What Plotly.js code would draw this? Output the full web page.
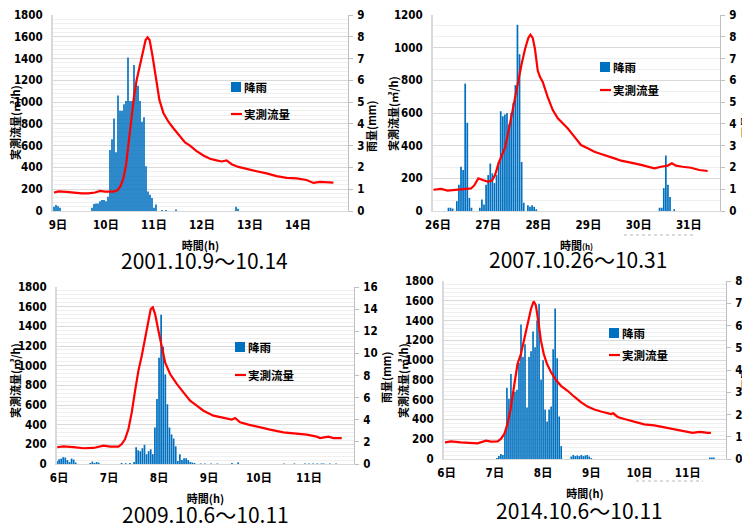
<!DOCTYPE html>
<html><head><meta charset="utf-8">
<script src="https://cdn.plot.ly/plotly-3.0.1.min.js"></script>
<style>html,body{margin:0;padding:0;background:#fff}#chart{width:742px;height:528px}</style>
</head><body><div id="chart"></div>
<script>
// ---------- data ----------
const days1 = ['9日','10日','11日','12日','13日','14日'];
const days2 = ['26日','27日','28日','29日','30日','31日'];
const days3 = ['6日','7日','8日','9日','10日','11日'];
const days4 = ['6日','7日','8日','9日','10日','11日'];

const titles = ['2001.10.9〜10.14','2007.10.26〜10.31','2009.10.6〜10.11','2014.10.6〜10.11'];

// hours from 0:00 of the first labelled day; rain in mm, flow in m3/h
const rain1H = [-2,-1,0,1,17,18,19,20,21,22,23,24,25,26,27,28,29,30,31,32,33,34,35,36,37,38,39,40,41,42,43,44,45,46,47,48,49,52,54,59,89,90];
const rain1V = [0.2,0.27,0.22,0.15,0.15,0.32,0.35,0.35,0.45,0.5,0.5,0.45,0.65,2.8,3.3,4.25,2.7,5.3,4.6,4.6,4.9,5.05,7.05,5.05,5.05,6.7,5.8,5.75,5.05,4.1,4.3,2.05,0.9,0.75,0.6,0.15,0.3,0.05,0.05,0.07,0.2,0.1];
const flow1H = [-2,0.3,4.3,7.7,11.8,15.2,18.5,21,23.5,27.7,29.7,31.3,32.7,34,35.3,36.7,38,39.3,41,42.7,43.8,44.8,45.8,47.2,48.8,50.7,52.7,55.2,57.7,61,63.5,66,69.3,72.7,76,79.3,81.8,84.3,86.8,90.2,94.3,99.3,104.3,109.3,114.3,119.3,124.3,127.7,131,134.3,137.7];
const flow1Q = [170,180,175,168,162,162,170,185,178,178,190,230,300,420,620,860,1050,1200,1330,1480,1570,1595,1570,1430,1220,1020,900,820,760,680,630,600,550,510,480,465,455,465,430,405,385,365,345,320,305,300,285,258,268,262,260];

const rain2H = [5,6,7,9,10,11,12,13,14,15,16,20,21,22,23,24,25,26,27,28,29,30,31,32,33,34,35,36,37,38,39,40,41,43,44,45,46,47,106,107,108,109,110,111,113];
const rain2V = [0.15,0.15,0.11,0.45,1.2,2.03,1.88,5.85,4.05,0.6,0.15,0.15,0.53,0.3,1.2,1.65,2.18,1.73,1.28,1.65,2.25,4.58,4.35,4.43,4.5,3.98,4.5,4.95,5.78,8.55,7.2,2.25,0.38,0.26,0.19,0.26,0.19,0.08,0.15,0.15,1.05,2.55,1.2,0.64,0.08];
const flow2H = [-2.2,1.5,4.6,7.8,11,14.2,15.8,17.4,19.3,21.4,23.8,25.7,27.3,28.9,30.5,32.1,33.6,35.2,36.8,38.4,40,41.6,43.2,44.2,45.3,46.4,47.7,48.8,50.1,52.4,54.9,57.3,59.7,62,65.2,68.4,71.6,74.8,78,81.2,84.4,87.6,90.7,93.9,97.1,100.3,103.5,106.7,109.9,111.9,113.8,117,121,125,129];
const flow2Q = [130,135,125,128,132,132,138,158,200,190,180,185,220,290,340,390,480,590,700,800,900,990,1060,1080,1060,990,860,820,790,700,618,567,537,506,455,404,384,363,349,337,322,308,298,292,282,271,261,271,278,292,278,271,265,251,245];

const rain3H = [-1,0,1,2,3,4,5,6,7,8,15,16,17,18,19,30,32,34,36,37,38,39,40,41,42,43,44,45,46,47,48,49,50,51,52,53,54,55,56,57,58,59,60,61,62,63,64,65,68,70,73,76,83,86,108,113,118,120,122,124,126,127,130,133];
const rain3V = [0.27,0.44,0.49,0.62,0.58,0.36,0.18,0.49,0.4,0.13,0.09,0.22,0.09,0.18,0.13,0.09,0.07,0.09,0.18,1.51,1.24,1.16,1.42,1.73,0.89,1.16,1.33,0.89,3.29,5.87,9.6,13.5,10.6,8.1,5.4,3.3,2.67,2.3,1.6,0.27,0.89,0.36,0.53,0.53,0.36,0.18,0.13,0.09,0.05,0.05,0.05,0.05,0.09,0.15,0.05,0.05,0.05,0.05,0.05,0.05,0.05,0.05,0.05,0.05];
const flow3H = [-0.9,2.1,6.9,11.7,16.5,21.3,24.5,28.5,30.1,31.7,33.3,34.9,36.5,38.1,39.7,41.3,42.9,44,45,46.1,47.7,49.3,50.9,53.3,56.5,59.7,62.9,66.1,69.3,74.1,78.9,82.9,84.5,86.9,90.9,95.7,101.3,107.7,112.5,118.9,123.7,125.3,129.3,131.7,135.7];
const flow3Q = [170,180,172,160,163,186,176,176,203,254,356,525,746,949,1100,1271,1458,1576,1593,1525,1356,1186,1034,915,814,729,644,593,542,492,468,451,468,424,400,373,349,322,312,298,278,264,278,264,264];

const rain4H = [25,26,27,28,29,30,31,32,33,34,35,36,37,38,39,40,41,42,43,44,45,46,47,48,49,50,51,52,53,54,55,56,57,62,63,64,65,66,67,68,69,70,71,72,131,132,133];
const rain4V = [0.04,0.13,0.22,0.18,1.24,3.2,2.71,3.82,2.98,3.02,3.11,4.31,6.04,4.58,5.16,2.31,4.58,4.84,5.73,5.02,6.22,6.98,3.56,4.44,2.22,1.69,2.22,2.36,4.93,6.76,4.53,1.91,0.58,0.11,0.18,0.13,0.16,0.13,0.18,0.13,0.16,0.18,0.11,0.04,0.07,0.07,0.07];
const flow4H = [-0.8,2.2,7.1,12.1,15.4,19.6,22.1,25.4,27,28.7,30.3,31.7,32.8,34,35.3,37,38.3,39.5,40.6,42,43.3,44.4,45.8,46.9,48.3,49.9,51.9,54.4,56.9,60.2,63.5,66.8,70.1,73.5,76.8,80.1,81.8,82.9,85.1,88.4,93.4,98.3,103.3,108.3,113.3,118.2,122.4,124.9,126.5,129.8,131.5];
const flow4Q = [169,179,169,162,159,186,176,179,203,253,355,490,659,794,963,1064,1182,1301,1419,1520,1595,1554,1368,1199,1064,963,880,800,740,690,630,575,530,500,480,462,455,462,425,405,375,350,340,320,304,287,264,272,274,264,264];

const rainName = '降雨', flowName = '実測流量';
const flowTitle = '実測流量(㎥/h)', rainTitle = '雨量(mm)';

// ---------- layout helpers ----------
const W = 742, H = 528;
const px = x => x / W, py = y => 1 - y / H;
const BLUE = '#0070c0', RED = '#ff0000';
const numFont = {family: '"Liberation Sans Narrow","DejaVu Sans Condensed","Noto Sans CJK JP",sans-serif', size: 11.5, color: '#000', weight: 'bold'};
const cjkBold = {family: '"Noto Sans CJK JP",sans-serif', size: 11, color: '#000', weight: 'bold'};
const legFont = {family: '"Noto Sans CJK JP",sans-serif', size: 11.5, color: '#000', weight: 'bold'};

const panels = [
  {days: days1, rH: rain1H, rV: rain1V, fH: flow1H, fQ: flow1Q, title: titles[0], xd: [53,348], yd: [15,211], xr: [-2.5,145], qmax: 1800, qminor: 40, rmax: 9, rdt: 1,
   tpos: [204,260], leg: [231,87,114], xt: '時間(h)', ftp: [15,123], rtp: [371,126]},
  {days: days2, rH: rain2H, rV: rain2V, fH: flow2H, fQ: flow2Q, title: titles[1], xd: [433,720], yd: [15,211], xr: [-2.4,134.9], qmax: 1200, qminor: 200/3, rmax: 9, rdt: 1,
   tpos: [578,259], leg: [600,67,90], xt: '時間<span style="font-size:8px">(h)</span>', ftp: [393,114], rtp: [746,112]},
  {days: days3, rH: rain3H, rV: rain3V, fH: flow3H, fQ: flow3Q, title: titles[2], xd: [57,354], yd: [287,464], xr: [-1,141.6], qmax: 1800, qminor: 40, rmax: 16, rdt: 2,
   tpos: [205,514], leg: [235,347,375], xt: '時間(h)', ftp: [15,381], rtp: [386,377]},
  {days: days4, rH: rain4H, rV: rain4V, fH: flow4H, fQ: flow4Q, title: titles[3], xd: [444,726], yd: [281,459], xr: [-1.3,139], qmax: 1800, qminor: 40, rmax: 8, rdt: 1,
   tpos: [579,510], leg: [609,333,355], xt: '時間(h)', ftp: [403,381], rtp: [746,365]}
];

const traces = [];
const layout = {
  width: W, height: H, margin: {l:0, r:0, t:0, b:0},
  paper_bgcolor: '#fff', plot_bgcolor: '#fff', showlegend: false,
  annotations: [], shapes: []
};

panels.forEach((p, i) => {
  const n = i + 1;
  const xId = n === 1 ? 'x' : 'x' + n;
  const rA = 2*n - 1, fA = 2*n;
  const rId = rA === 1 ? 'y' : 'y' + rA;
  const fId = 'y' + fA;
  const xdom = [px(p.xd[0]), px(p.xd[1])];
  const ydom = [py(p.yd[1]), py(p.yd[0])];

  traces.push({type: 'bar', name: rainName, x: p.rH, y: p.rV, xaxis: xId, yaxis: rId,
    width: 0.82, marker: {color: BLUE, line: {width: 0}}});
  traces.push({type: 'scatter', mode: 'lines', name: flowName, x: p.fH, y: p.fQ, xaxis: xId, yaxis: fId,
    line: {color: RED, width: 2.2}});

  layout['xaxis' + (n === 1 ? '' : n)] = {
    domain: xdom, anchor: rId, range: p.xr,
    tickvals: p.days.map((d, k) => k * 24), ticktext: p.days,
    showgrid: false, zeroline: false, showline: true, linecolor: '#d9d9d9', linewidth: 1,
    ticks: '', ticklabelstandoff: 3, tickfont: numFont,
    title: {text: p.xt, font: cjkBold, standoff: 11}
  };
  layout['yaxis' + (rA === 1 ? '' : rA)] = {
    domain: ydom, anchor: xId, side: 'right', range: [0, p.rmax], dtick: p.rdt,
    showgrid: false, zeroline: false, showline: true, linecolor: '#bfbfbf', linewidth: 1,
    ticks: 'outside', ticklen: 4, tickcolor: '#bfbfbf', tickfont: numFont, ticklabelstandoff: 2
  };
  layout['yaxis' + fA] = {
    overlaying: rId, anchor: xId, side: 'left', range: [0, p.qmax], dtick: 200,
    showgrid: true, gridcolor: '#d9d9d9', gridwidth: 1,
    minor: {dtick: p.qminor, showgrid: true, gridcolor: '#efefef', gridwidth: 1},
    zeroline: false, showline: true, linecolor: '#d9d9d9', linewidth: 2,
    ticks: '', ticklabelstandoff: 6, tickfont: numFont
  };

  // axis titles placed as in the pasted Excel charts
  layout.annotations.push({xref: 'paper', yref: 'paper', x: px(p.ftp[0]), y: py(p.ftp[1]), textangle: -90,
    xanchor: 'center', yanchor: 'middle', showarrow: false, text: flowTitle, font: cjkBold, borderpad: 0});
  layout.annotations.push({xref: 'paper', yref: 'paper', x: px(p.rtp[0]), y: py(p.rtp[1]), textangle: -90,
    xanchor: 'center', yanchor: 'middle', showarrow: false, text: rainTitle, font: cjkBold, borderpad: 0});

  // big period title
  layout.annotations.push({xref: 'paper', yref: 'paper', x: px(p.tpos[0]), y: py(p.tpos[1]),
    xanchor: 'center', yanchor: 'middle', showarrow: false, text: p.title, borderpad: 0,
    font: {family: '"Noto Sans CJK JP",sans-serif', size: 21, color: '#000'}});

  // legend (drawn manually to match the short Excel keys)
  const lx = p.leg[0], ly1 = p.leg[1], ly2 = p.leg[2];
  layout.shapes.push({type: 'rect', xref: 'paper', yref: 'paper', x0: px(lx), x1: px(lx + 10), y0: py(ly1 + 5), y1: py(ly1 - 5),
    fillcolor: BLUE, line: {width: 0}});
  layout.shapes.push({type: 'line', xref: 'paper', yref: 'paper', x0: px(lx), x1: px(lx + 11), y0: py(ly2), y1: py(ly2),
    line: {color: RED, width: 2.2}});
  layout.annotations.push({xref: 'paper', yref: 'paper', x: px(lx + 11), y: py(ly1), xanchor: 'left', yanchor: 'middle',
    showarrow: false, text: rainName, font: legFont});
  layout.annotations.push({xref: 'paper', yref: 'paper', x: px(lx + 11), y: py(ly2), xanchor: 'left', yanchor: 'middle',
    showarrow: false, text: flowName, font: legFont});
});

// faint dotted artefacts under two of the date axes
layout.shapes.push({type: 'line', xref: 'paper', yref: 'paper', x0: px(624), x1: px(696), y0: py(235), y1: py(235), line: {color: '#b8b8b8', width: 1, dash: 'dot'}});
layout.shapes.push({type: 'line', xref: 'paper', yref: 'paper', x0: px(636), x1: px(703), y0: py(481), y1: py(481), line: {color: '#b8b8b8', width: 1, dash: 'dot'}});

Plotly.newPlot('chart', traces, layout, {displayModeBar: false, staticPlot: true});
</script>
</body></html>
